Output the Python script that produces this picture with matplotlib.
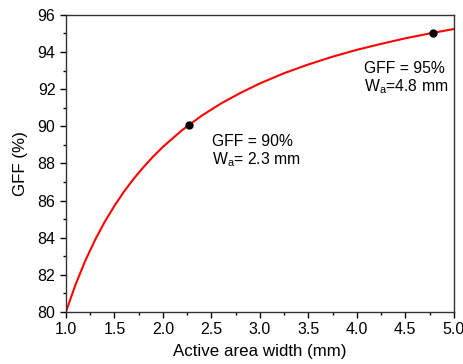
import matplotlib
matplotlib.use("Agg")
import matplotlib.pyplot as plt
from matplotlib.ticker import MultipleLocator

plt.rcParams['font.family'] = ['Liberation Sans', 'DejaVu Sans']
plt.rcParams['mathtext.fontset'] = 'custom'
plt.rcParams['mathtext.rm'] = 'Liberation Sans'

width_mm = [1.0, 1.1, 1.2, 1.3, 1.4, 1.5, 1.6, 1.7, 1.8, 1.9, 2.0, 2.2, 2.4, 2.6,
            2.8, 3.0, 3.25, 3.5, 3.75, 4.0, 4.25, 4.5, 4.75, 5.0]
gff_pct = [80.00, 81.48, 82.76, 83.87, 84.85, 85.71, 86.49, 87.18, 87.80, 88.37,
           88.89, 89.80, 90.57, 91.23, 91.80, 92.31, 92.86, 93.33, 93.75, 94.12,
           94.44, 94.74, 95.00, 95.24]

mark_x = [2.27, 4.79]
mark_y = [90.07, 95.04]

fig = plt.figure(figsize=(4.64, 3.64), dpi=100)
ax = fig.add_axes([0.142, 0.143, 0.836, 0.816])
ax.plot(width_mm, gff_pct, color='#ff0000', lw=1.5)
ax.plot(mark_x, mark_y, 'o', color='black', ms=5)

ax.set_xlim(1.0, 5.0)
ax.set_ylim(80, 96)
ax.xaxis.set_major_locator(MultipleLocator(0.5))
ax.xaxis.set_minor_locator(MultipleLocator(0.25))
ax.yaxis.set_major_locator(MultipleLocator(2))
ax.yaxis.set_minor_locator(MultipleLocator(1))
ax.xaxis.set_major_formatter(matplotlib.ticker.FormatStrFormatter('%.1f'))
ax.tick_params(which='major', direction='out', length=4, width=1, labelsize=11.5)
ax.tick_params(which='minor', direction='out', length=2.5, width=1)
for s in ax.spines.values():
    s.set_linewidth(1.0)
    s.set_color('#333333')

ax.set_xlabel('Active area width (mm)', fontsize=12.2, labelpad=5)
ax.set_ylabel('GFF (%)', fontsize=12.2, labelpad=7)

fs = 11.3
ax.text(2.51, 89.16, 'GFF = 90%', fontsize=fs, va='center', ha='left')
ax.text(2.51, 88.19, r'W$_\mathregular{a}$= 2.3 mm', fontsize=fs, va='center', ha='left')
ax.text(4.07, 93.14, 'GFF = 95%', fontsize=fs, va='center', ha='left')
ax.text(4.07, 92.12, r'W$_\mathregular{a}$=4.8 mm', fontsize=fs, va='center', ha='left')

fig.savefig('out.png', dpi=100)
